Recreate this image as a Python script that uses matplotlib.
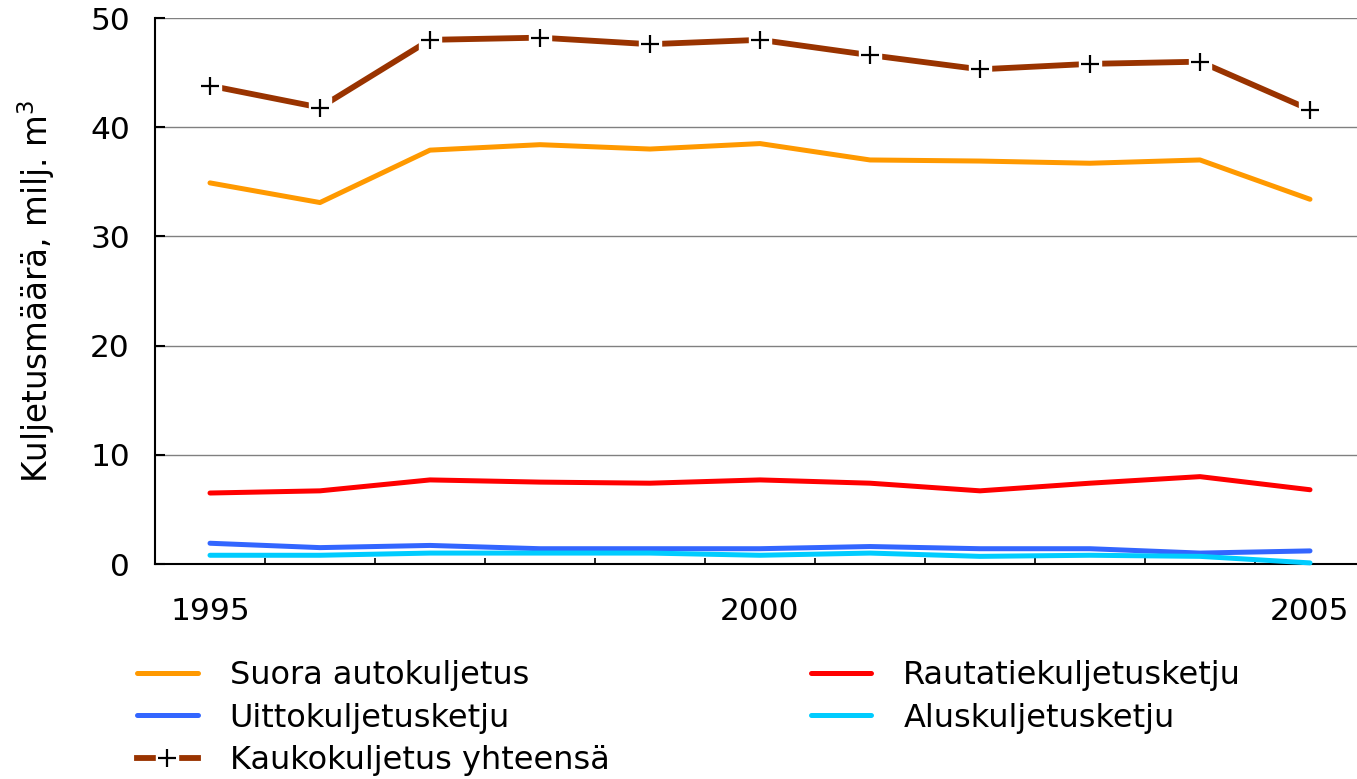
import matplotlib
matplotlib.use("Agg")
import matplotlib.pyplot as plt
from matplotlib.legend_handler import HandlerTuple

years = [1995, 1996, 1997, 1998, 1999, 2000, 2001, 2002, 2003, 2004, 2005]
suora = [34.9, 33.1, 37.9, 38.4, 38.0, 38.5, 37.0, 36.9, 36.7, 37.0, 33.4]
rautatie = [6.5, 6.7, 7.7, 7.5, 7.4, 7.7, 7.4, 6.7, 7.4, 8.0, 6.8]
uitto = [1.9, 1.5, 1.7, 1.4, 1.4, 1.4, 1.6, 1.4, 1.4, 1.0, 1.2]
alus = [0.8, 0.8, 1.0, 1.0, 1.0, 0.8, 1.0, 0.7, 0.8, 0.7, 0.1]
kauko = [43.8, 41.8, 48.0, 48.2, 47.6, 48.0, 46.6, 45.3, 45.8, 46.0, 41.6]

labels = ['Suora autokuljetus', 'Uittokuljetusketju', 'Kaukokuljetus yhteensä',
          'Rautatiekuljetusketju', 'Aluskuljetusketju']

W, H = 1357, 779
fig = plt.figure(figsize=(W / 100, H / 100), dpi=100)
ax = fig.add_axes([155 / W, 1 - 564 / H, 1210 / W, 546 / H])

l_suora, = ax.plot(years, suora, color='#FF9900', lw=3.6, solid_capstyle='round')
l_rauta, = ax.plot(years, rautatie, color='#FF0000', lw=3.6, solid_capstyle='round')
l_uitto, = ax.plot(years, uitto, color='#3366FF', lw=3.6, solid_capstyle='round')
l_alus, = ax.plot(years, alus, color='#00CCFF', lw=3.6, solid_capstyle='round', clip_on=False)
l_kauko, = ax.plot(years, kauko, color='#993300', lw=4.2, marker='s', ms=16,
                   mfc='white', mec='white')
p_kauko, = ax.plot(years, kauko, ls='none', marker='+', ms=13, mew=1.6, color='black')

ax.set_xlim(1994.5, 2005.5)
ax.set_ylim(0, 50)
ax.set_yticks(range(0, 51, 10))
ax.grid(axis='y', color='#808080', lw=1)
ax.set_axisbelow(True)
for s in ['top', 'right']:
    ax.spines[s].set_visible(False)
for s in ['left', 'bottom']:
    ax.spines[s].set_linewidth(1.5)
    ax.spines[s].set_zorder(1)

ax.tick_params(axis='y', direction='in', length=7.5, width=1.5, labelsize=22.5, pad=18)
ax.set_xticks([1995, 2000, 2005])
ax.set_xticks([y + 0.5 for y in years[:-1]], minor=True)
ax.tick_params(axis='x', which='major', length=0, labelsize=22.5, pad=24)
ax.tick_params(axis='x', which='minor', direction='in', length=4, width=1.2)

ax.set_ylabel('Kuljetusmäärä, milj. m$^3$', fontsize=23.5)
ax.yaxis.set_label_coords(-0.081, 0.5)

handles = [l_suora, l_uitto, (l_kauko, p_kauko), l_rauta, l_alus]
fig.legend(handles, labels, ncol=2, loc='upper left',
           bbox_to_anchor=(137 / W, 1 - 660 / H), frameon=False, fontsize=23,
           handlelength=1.9, handletextpad=1.0, columnspacing=6.3,
           labelspacing=0.36, borderpad=0, borderaxespad=0,
           handler_map={tuple: HandlerTuple(ndivide=1)})

fig.savefig('out.png', dpi=100)
